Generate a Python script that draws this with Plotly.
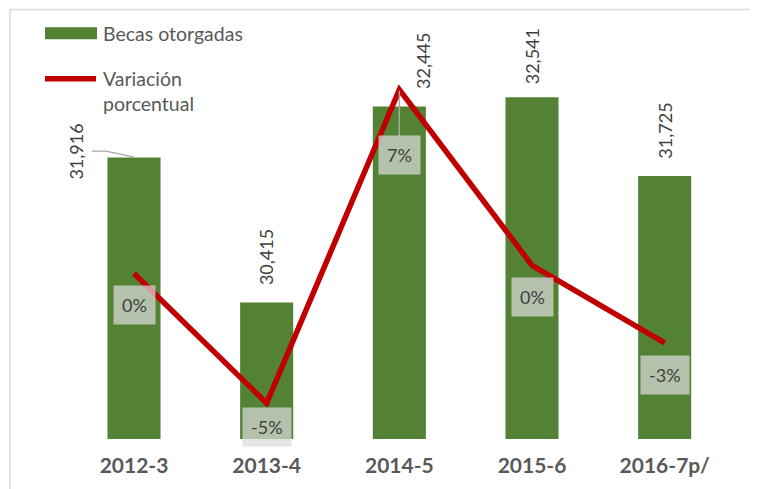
import plotly.graph_objects as go

categories = ["2012-3", "2013-4", "2014-5", "2015-6", "2016-7p/"]
becas = [31916, 30415, 32445, 32541, 31725]
variacion = [0.0, -0.047, 0.0667, 0.003, -0.0251]
variacion_labels = ["0%", "-5%", "7%", "0%", "-3%"]

GREEN = "#548235"
RED = "#c00000"
TXT = "#404040"
FONT = "Lato"

# page body has an 8px margin; figure sized so it fits the window
OFF = 8
W, H = 757 - OFF, 489 - OFF
ML, MR, MT, MB = 63 - OFF, 26, 53 - OFF, 46
PW, PH = W - ML - MR, H - MT - MB

fig = go.Figure()
fig.add_trace(go.Bar(
    x=categories, y=becas, marker=dict(color=GREEN, line=dict(width=0)),
    width=0.4, name="Becas otorgadas", showlegend=False, hoverinfo="x+y",
))
fig.add_trace(go.Scatter(
    x=categories, y=variacion, yaxis="y2", mode="lines",
    line=dict(color=RED, width=5.5), name="Variación porcentual", showlegend=False,
))

annotations = []
# bar value labels (rotated)
bar_label_shift = [(-58, 6), (0, 45), (23, 46), (0, 41), (0, 45)]
for i, (c, v) in enumerate(zip(categories, becas)):
    dx, dy = bar_label_shift[i]
    annotations.append(dict(
        x=i, y=v, xref="x", yref="y", text=f"{v:,}", textangle=-90,
        showarrow=False, xanchor="center", yanchor="middle",
        xshift=dx, yshift=dy, font=dict(family=FONT, size=18, color=TXT),
    ))
# percentage labels (boxes)
pct_shift = [-31, -24, -65, -32, -32]
for i, (c, v, t) in enumerate(zip(categories, variacion, variacion_labels)):
    annotations.append(dict(
        x=i, y=v, xref="x", yref="y2", text=t, showarrow=False,
        xanchor="center", yanchor="middle", yshift=pct_shift[i],
        bgcolor="rgba(217,217,217,0.72)", borderpad=8,
        font=dict(family=FONT, size=18, color=TXT),
    ))


# screenshot pixel -> paper coords
def px_x(p):
    return (p - OFF - ML) / PW


def px_y(p):
    return 1 - (p - OFF - MT) / PH


shapes = [
    dict(type="rect", xref="paper", yref="paper", x0=px_x(45), x1=px_x(97),
         y0=px_y(39), y1=px_y(27), fillcolor=GREEN, line=dict(width=0)),
    dict(type="line", xref="paper", yref="paper", x0=px_x(45), x1=px_x(96),
         y0=px_y(79), y1=px_y(79), line=dict(color=RED, width=5.5)),
    # chart border
    dict(type="line", xref="paper", yref="paper", x0=px_x(10), x1=px_x(10),
         y0=px_y(9), y1=px_y(495), line=dict(color="#d9d9d9", width=1.5)),
    dict(type="line", xref="paper", yref="paper", x0=px_x(10), x1=px_x(765),
         y0=px_y(9), y1=px_y(9), line=dict(color="#d9d9d9", width=1.5)),
    # leader line for first bar label
    dict(type="path", xref="x", yref="y", xsizemode="pixel", ysizemode="pixel",
         xanchor=0, yanchor=becas[0], path="M-42,6.5 L-28,6.5 L0,0.5",
         line=dict(color="#a6a6a6", width=1.2)),
    # leader line for 7% label
    dict(type="path", xref="x", yref="y2", xsizemode="pixel", ysizemode="pixel",
         xanchor=2, yanchor=variacion[2], path="M0,-1 L0,-47",
         line=dict(color="#a6a6a6", width=1.5)),
]
annotations += [
    dict(x=px_x(101), y=px_y(33), xref="paper", yref="paper", text="Becas otorgadas",
         showarrow=False, xanchor="left", yanchor="middle",
         font=dict(family=FONT, size=19.5, color="#595959")),
    dict(x=px_x(101), y=px_y(91), xref="paper", yref="paper",
         text="Variación<br>porcentual", align="left",
         showarrow=False, xanchor="left", yanchor="middle",
         font=dict(family=FONT, size=19.5, color="#595959")),
]

fig.update_layout(
    width=W, height=H, margin=dict(l=ML, r=MR, t=MT, b=MB),
    paper_bgcolor="white", plot_bgcolor="white",
    xaxis=dict(type="category", showgrid=False, showline=False, zeroline=False, ticks="",
               tickfont=dict(family=FONT, size=21, color="#595959", weight="bold"),
               ticklabelstandoff=12),
    yaxis=dict(range=[29000, 33000], visible=False),
    yaxis2=dict(range=[-0.06, 0.08], overlaying="y", side="right", visible=False),
    annotations=annotations, shapes=shapes, showlegend=False,
)

fig.write_html("out.html")
